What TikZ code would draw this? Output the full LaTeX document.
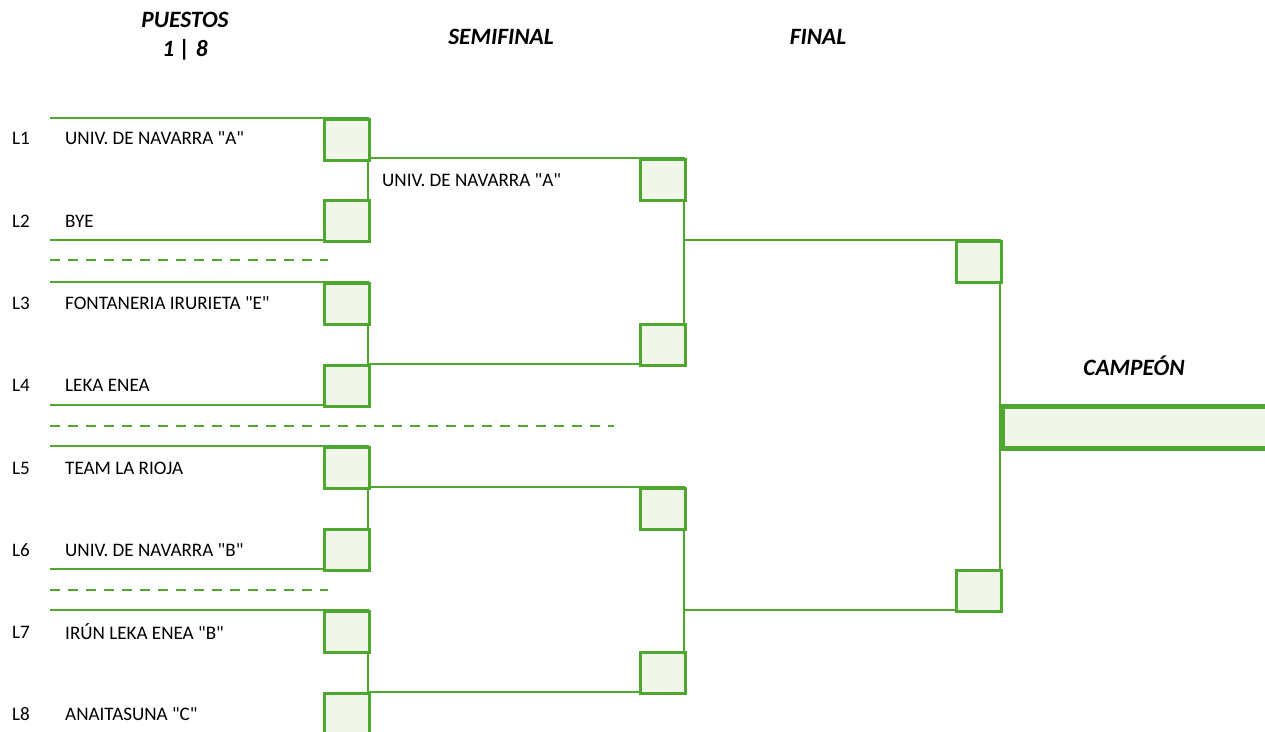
\documentclass[tikz,border=0pt]{standalone}
\usepackage{fontspec}
\setmainfont{Carlito}
\font\teamfont="Carlito" at 19.1pt
\font\headfont="Carlito/BI" at 23.4pt
\definecolor{brk}{HTML}{4EA72E}
\definecolor{cellfill}{HTML}{F0F6E8}
\begin{document}
\begin{tikzpicture}[x=1pt,y=-1pt,
  ln/.style={draw=brk, line width=2.7pt},
  dsh/.style={draw=brk, line width=2.7pt, dash pattern=on 10pt off 8pt},
  cell/.style={draw=brk, fill=cellfill, line width=2.7pt, minimum width=45pt, minimum height=41pt, anchor=north west, inner sep=0pt},
  champ/.style={draw=brk, fill=cellfill, line width=4.6pt, minimum width=270pt, minimum height=42pt, anchor=north west, inner sep=0pt},
  team/.style={anchor=west, font=\teamfont, inner sep=0pt},
  lab/.style={anchor=west, font=\teamfont, inner sep=0pt},
  head/.style={font=\headfont, inner sep=0pt}]
\useasboundingbox (0,0) rectangle (1265,731);
% free ends of the team lines
\foreach \n/\y in {t1/118,b2/240,t3/282,b4/405,t5/446,b6/569,t7/610,b8/733}
  \coordinate (\n) at (50,\y);
% headers
\node[head] (hp1) at (185,20) {PUESTOS};
\node[head] (hp2) at (185,50) {1 | 8};
\node[head] (hs) at (501,37) {SEMIFINAL};
\node[head] (hf) at (818,37) {FINAL};
\node[head] (hc) at (1134,366) {CAMPEÓN};
% dashed separators
\coordinate (d1a) at (50,260); \coordinate (d1b) at (328,260);
\coordinate (d2a) at (50,426); \coordinate (d2b) at (614,426);
\coordinate (d3a) at (50,590); \coordinate (d3b) at (328,590);
\draw[dsh] (d1a) -- (d1b);
\draw[dsh] (d2a) -- (d2b);
\draw[dsh] (d3a) -- (d3b);
% round 1 cell positions
\foreach \i/\y in {1/118,2/199,3/282,4/364,5/446,6/528,7/610,8/692}
  \path (323,\y) coordinate (p\i);
% semifinal / final corner points
\coordinate (sA) at (684,158); \coordinate (sB) at (684,364);
\coordinate (sC) at (684,487); \coordinate (sD) at (684,692);
\coordinate (fA) at (1000,240); \coordinate (fB) at (1000,610);
\coordinate (r1) at (368,735);
% lines round 1
\draw[ln] (t1) -- (368,118) |- (b2);
\draw[ln] (t3) -- (368,282) |- (b4);
\draw[ln] (t5) -- (368,446) |- (b6);
\draw[ln] (t7) -- (368,610) -- (r1);
% semifinal lines
\draw[ln] (368,158) -- (sA) -- (sB) -- (368,364);
\draw[ln] (368,487) -- (sC) -- (sD) -- (368,692);
% final lines
\draw[ln] (684,240) -- (fA) -- (fB) -- (684,610);
% cells
\foreach \i in {1,...,8} \node[cell] (c\i) at (p\i) {};
\node[cell] (s1) at (639,158) {};
\node[cell] (s2) at (639,323) {};
\node[cell] (s3) at (639,487) {};
\node[cell] (s4) at (639,651) {};
\node[cell] (f1) at (955,240) {};
\node[cell] (f2) at (955,569) {};
\node[champ] (ch) at (1000,404) {};
% labels and teams
\foreach \i/\y/\t in {1/138/{UNIV. DE NAVARRA "A"},2/221/{BYE},3/303/{FONTANERIA IRURIETA "E"},4/385/{LEKA ENEA},5/468/{TEAM LA RIOJA},6/550/{UNIV. DE NAVARRA "B"},7/632/{IRÚN LEKA ENEA "B"},8/714/{ANAITASUNA "C"}}{
  \node[lab] (L\i) at (12,\y) {L\i};
  \node[team] (n\i) at (65,\y) {\t};
}
\node[team] (sw1) at (382,180) {UNIV. DE NAVARRA "A"};
\end{tikzpicture}
\end{document}
